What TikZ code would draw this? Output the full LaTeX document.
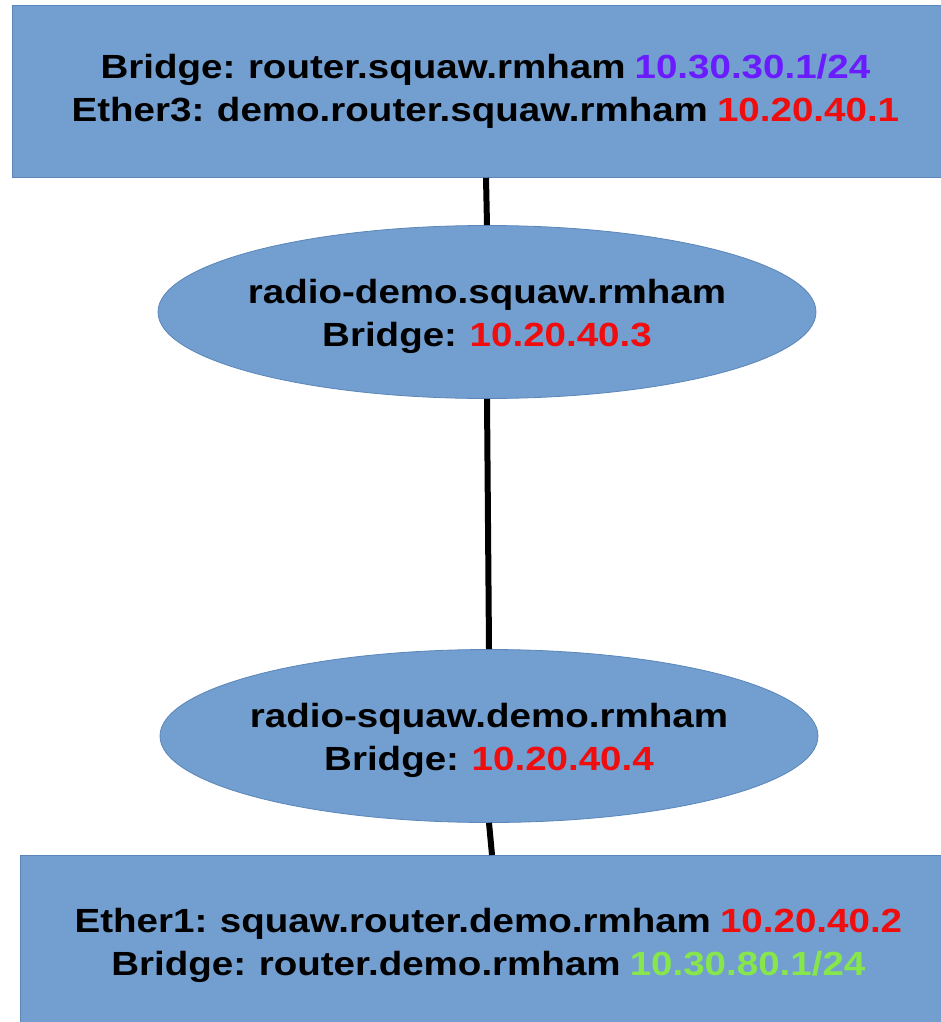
\documentclass[tikz,border=0pt]{standalone}
\usepackage{fontspec}
\newfontfamily\labfont[FakeStretch=1.15, WordSpace=0.85]{Liberation Sans}
\usetikzlibrary{shapes.geometric}
\definecolor{boxfill}{HTML}{729FCF}
\definecolor{boxline}{HTML}{5A86BA}
\definecolor{ipred}{HTML}{F00D0D}
\definecolor{ippurple}{HTML}{6A1BFF}
\definecolor{ipgreen}{HTML}{86E64C}
\tikzset{
  x=1pt, y=-1pt,
  lbl/.style={font=\labfont\bfseries\fontsize{33.5}{43}\selectfont, align=center, text=black},
  router/.style={lbl, draw=boxline, line width=0.8pt, fill=boxfill, rectangle, inner sep=0pt, anchor=north west},
  radio/.style={draw=boxline, line width=0.8pt, fill=boxfill, ellipse, inner sep=0pt, minimum width=658pt, minimum height=173pt},
  radiotext/.style={lbl, inner sep=0pt, yshift=-4pt},
  link/.style={line width=6pt, black}
}
\begin{document}
\begin{tikzpicture}
\useasboundingbox (0,0) rectangle (941,1022);
\fill[white] (0,0) rectangle (941,1022);

% upper router
\node[router, minimum width=946pt, minimum height=172pt] (top) at (12,5)
  {Bridge: router.squaw.rmham \textcolor{ippurple}{10.30.30.1/24}\\
   Ether3: demo.router.squaw.rmham \textcolor{ipred}{10.20.40.1}};

% radios
\node[radio] (r1) at (487,312) {};
\node[radiotext] (r1t) at (r1.center)
  {radio-demo.squaw.rmham\\ Bridge: \textcolor{ipred}{10.20.40.3}};
\node[radio] (r2) at (489,736) {};
\node[radiotext] (r2t) at (r2.center)
  {radio-squaw.demo.rmham\\ Bridge: \textcolor{ipred}{10.20.40.4}};

% lower router
\node[router, minimum width=936pt, minimum height=180pt] (bot) at (20,855)
  {Ether1: squaw.router.demo.rmham \textcolor{ipred}{10.20.40.2}\\
   Bridge: router.demo.rmham \textcolor{ipgreen}{10.30.80.1/24}};

% links
\draw[link] (top.south -| 486,0) -- (r1.north);
\draw[link] (r1.south) -- (r2.north);
\draw[link] (r2.south) -- (bot.north -| 492,0);
\end{tikzpicture}
\end{document}
